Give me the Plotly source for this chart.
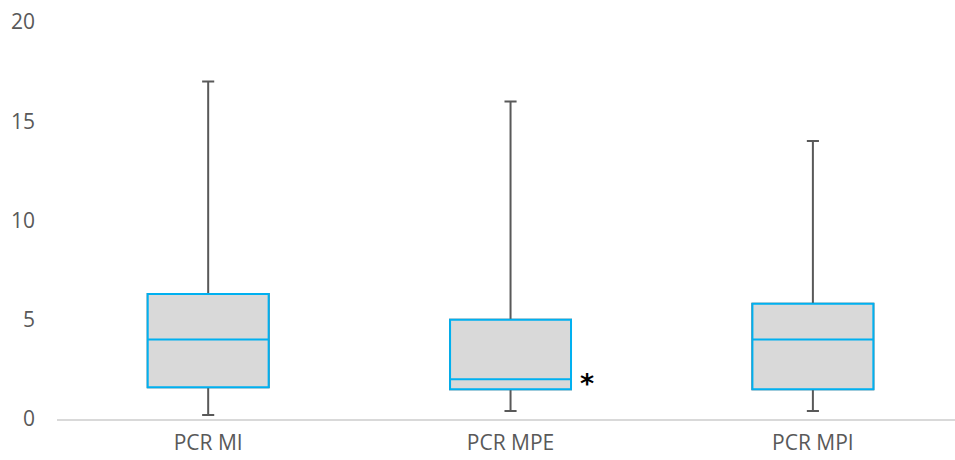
import plotly.graph_objects as go

categories = ["PCR MI", "PCR MPE", "PCR MPI"]
lower_fence = [0.2, 0.4, 0.4]
q1 = [1.6, 1.5, 1.5]
median = [4.0, 2.0, 4.0]
q3 = [6.3, 5.0, 5.8]
upper_fence = [17.0, 16.0, 14.0]
y_ticks = [0, 5, 10, 15, 20]

fig = go.Figure()
# whiskers (gray)
fig.add_trace(go.Box(
    x=categories, q1=q1, median=median, q3=q3,
    lowerfence=lower_fence, upperfence=upper_fence,
    fillcolor="#D9D9D9", line=dict(color="#595959", width=2),
    whiskerwidth=0.1, width=0.4, boxpoints=False, hoverinfo="skip",
    showlegend=False,
))
# box body (blue outline)
fig.add_trace(go.Box(
    x=categories, q1=q1, median=median, q3=q3,
    lowerfence=q1, upperfence=q3,
    fillcolor="#D9D9D9", line=dict(color="#00B0F0", width=2),
    whiskerwidth=0, width=0.4, boxpoints=False,
    showlegend=False,
))

fig.add_annotation(x=categories[1], y=median[1], text="<b>*</b>", showarrow=False,
                   xshift=76, yshift=-4, font=dict(size=27, color="#000000", family="DejaVu Sans"))

fig.update_layout(
    width=955, height=460,
    margin=dict(l=57, r=0, t=22, b=41),
    plot_bgcolor="white", paper_bgcolor="white",
    boxmode="overlay",
    font=dict(family="Open Sans", size=21, color="#595959"),
    xaxis=dict(range=[-0.5, 2.47], showline=True, linecolor="#D9D9D9", linewidth=2,
               showgrid=False, zeroline=False, ticks="", ticklabelstandoff=4,
               tickfont=dict(size=21, color="#595959")),
    yaxis=dict(range=[0, 20], tickvals=y_ticks, showgrid=False, zeroline=False,
               showline=False, ticks="", ticklabelstandoff=21,
               tickfont=dict(size=21, color="#595959")),
)

fig.write_html("out.html", config={"displayModeBar": False},
               post_script="document.body.style.margin='0px';document.body.style.overflow='hidden';")
